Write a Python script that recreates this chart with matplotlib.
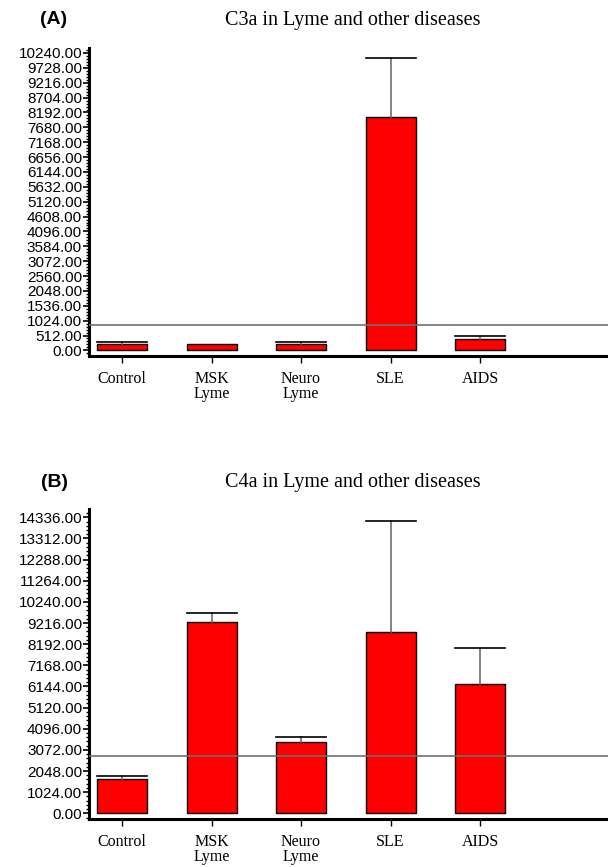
import numpy as np
import matplotlib
matplotlib.use("Agg")
import matplotlib.pyplot as plt
from matplotlib.ticker import MultipleLocator, FormatStrFormatter

# ----------------------------------------------------------
# Data
# ----------------------------------------------------------
groups = ["Control", "MSK\nLyme", "Neuro\nLyme", "SLE", "AIDS"]

c3a_mean = [207, 230, 215, 8030, 380]
c3a_upper = [285, 230, 285, 10070, 480]
c3a_cutoff = 862

c4a_mean = [1660, 9280, 3453, 8795, 6262]
c4a_upper = [1810, 9685, 3680, 14155, 7990]
c4a_cutoff = 2775

serif = ["Liberation Serif", "DejaVu Serif"]
sans = ["Liberation Sans", "DejaVu Sans"]

fig = plt.figure(figsize=(6.08, 8.67), dpi=100)


def panel(rect, means, upper, cutoff, ylim, major, minor, title, tag, tag_y):
    ax = fig.add_axes(rect)
    x = np.arange(len(groups))
    w = 0.56
    ax.bar(x, means, width=w, color="#ff0000", edgecolor="black", linewidth=1.0, zorder=2)
    for xi, m, u in zip(x, means, upper):
        if u > m:
            ax.plot([xi, xi], [m, u], color="#707070", lw=1.2, zorder=3)
            ax.plot([xi - w / 2, xi + w / 2], [u, u], color="black", lw=1.2, zorder=3)
    ax.axhline(cutoff, color="#707070", lw=1.2, zorder=4)

    ax.set_xlim(-0.37, 5.43)
    ax.set_ylim(*ylim)
    ax.set_xticks(x)
    ax.set_xticklabels(groups, fontfamily=serif, fontsize=11.5, linespacing=0.92)
    ax.yaxis.set_major_locator(MultipleLocator(major))
    ax.yaxis.set_minor_locator(MultipleLocator(minor))
    ax.yaxis.set_major_formatter(FormatStrFormatter("%.2f"))
    for lab in ax.get_yticklabels():
        lab.set_fontfamily(sans)
        lab.set_fontsize(11)
    ax.tick_params(axis="y", which="major", direction="out", length=4, width=1.2, pad=1)
    ax.tick_params(axis="y", which="minor", direction="out", length=2.5, width=1.0)
    ax.tick_params(axis="x", direction="out", length=5, width=1.0, pad=6)
    for s in ["top", "right"]:
        ax.spines[s].set_visible(False)
    for s in ["left", "bottom"]:
        ax.spines[s].set_linewidth(2.2)

    fig.text(353 / 608, tag_y, title, fontfamily=serif, fontsize=14.5,
             ha="center", va="center")
    fig.text(54 / 608, tag_y, tag, fontfamily=sans, fontsize=14, fontweight="bold",
             ha="center", va="center")
    return ax


panel([89 / 608, 1 - 356 / 867, 519 / 608, 308 / 867],
      c3a_mean, c3a_upper, c3a_cutoff, (-193, 10412), 512, 102.4,
      "C3a in Lyme and other diseases", "(A)", 1 - 20 / 867)

panel([89 / 608, 1 - 819 / 867, 519 / 608, 310 / 867],
      c4a_mean, c4a_upper, c4a_cutoff, (-276, 14738), 1024, 204.8,
      "C4a in Lyme and other diseases", "(B)", 1 - 482 / 867)

fig.savefig("out.png", dpi=100)
